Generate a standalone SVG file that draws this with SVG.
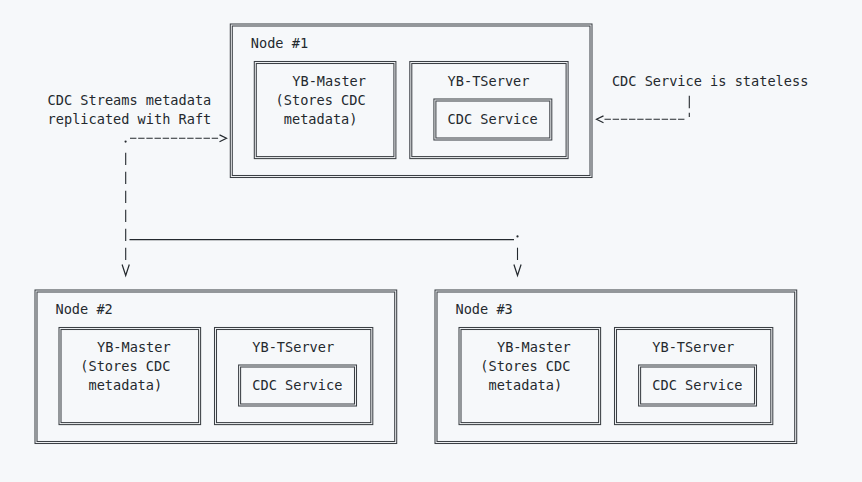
<svg xmlns="http://www.w3.org/2000/svg" width="862" height="482" viewBox="0 0 862 482">
  <style>
    .bg { fill: #f6f8fa; }
    .box { fill: none; stroke: #3c4045; stroke-width: 1.05; }
    .t { font-family: "DejaVu Sans Mono", "Liberation Mono", monospace; font-size: 13.6px; fill: #24292e; }
    .ln { fill: none; stroke: #24292e; stroke-width: 1.1; }
    .dh { stroke-dasharray: 6.4 1.77; }
    .dv { stroke-dasharray: 12.3 6.7; }
    .head { fill: none; stroke: #24292e; stroke-width: 1.2; stroke-linejoin: miter; }
    .dot { fill: #24292e; }
  </style>
  <rect class="bg" x="0" y="0" width="862" height="482"/>

  <g id="node1" transform="translate(230.3,24)">
    <rect class="box" x="0" y="0" width="361.7" height="153.5"/>
    <rect class="box" x="2" y="2" width="357.7" height="149.5"/>
    <rect class="box" x="24" y="37.5" width="141.6" height="97.1"/>
    <rect class="box" x="26" y="39.5" width="137.6" height="93.1"/>
    <rect class="box" x="179.5" y="37.5" width="158.3" height="97.1"/>
    <rect class="box" x="181.5" y="39.5" width="154.3" height="93.1"/>
    <rect class="box" x="203.6" y="75" width="117.9" height="41"/>
    <rect class="box" x="205.6" y="77" width="113.9" height="37"/>
    <text class="t" x="20.5" y="24">Node #1</text>
    <text class="t" x="62" y="62">YB-Master</text>
    <text class="t" x="45.3" y="81">(Stores CDC</text>
    <text class="t" x="53.5" y="100">metadata)</text>
    <text class="t" x="217.3" y="62">YB-TServer</text>
    <text class="t" x="217.3" y="100">CDC Service</text>
  </g>

  <g id="node2" transform="translate(35,290)">
    <rect class="box" x="0" y="0" width="361.7" height="153.5"/>
    <rect class="box" x="2" y="2" width="357.7" height="149.5"/>
    <rect class="box" x="24" y="37.5" width="141.6" height="97.1"/>
    <rect class="box" x="26" y="39.5" width="137.6" height="93.1"/>
    <rect class="box" x="179.5" y="37.5" width="158.3" height="97.1"/>
    <rect class="box" x="181.5" y="39.5" width="154.3" height="93.1"/>
    <rect class="box" x="203.6" y="75" width="117.9" height="41"/>
    <rect class="box" x="205.6" y="77" width="113.9" height="37"/>
    <text class="t" x="20.5" y="24">Node #2</text>
    <text class="t" x="62" y="62">YB-Master</text>
    <text class="t" x="45.3" y="81">(Stores CDC</text>
    <text class="t" x="53.5" y="100">metadata)</text>
    <text class="t" x="217.3" y="62">YB-TServer</text>
    <text class="t" x="217.3" y="100">CDC Service</text>
  </g>

  <g id="node3" transform="translate(435,290)">
    <rect class="box" x="0" y="0" width="361.7" height="153.5"/>
    <rect class="box" x="2" y="2" width="357.7" height="149.5"/>
    <rect class="box" x="24" y="37.5" width="141.6" height="97.1"/>
    <rect class="box" x="26" y="39.5" width="137.6" height="93.1"/>
    <rect class="box" x="179.5" y="37.5" width="158.3" height="97.1"/>
    <rect class="box" x="181.5" y="39.5" width="154.3" height="93.1"/>
    <rect class="box" x="203.6" y="75" width="117.9" height="41"/>
    <rect class="box" x="205.6" y="77" width="113.9" height="37"/>
    <text class="t" x="20.5" y="24">Node #3</text>
    <text class="t" x="62" y="62">YB-Master</text>
    <text class="t" x="45.3" y="81">(Stores CDC</text>
    <text class="t" x="53.5" y="100">metadata)</text>
    <text class="t" x="217.3" y="62">YB-TServer</text>
    <text class="t" x="217.3" y="100">CDC Service</text>
  </g>

  <g id="labels">
    <text class="t" x="47.6" y="105">CDC Streams metadata</text>
    <text class="t" x="47.6" y="124">replicated with Raft</text>
    <text class="t" x="611.9" y="86">CDC Service is stateless</text>
  </g>

  <g id="connectors">
    <circle class="dot" cx="125.6" cy="141.6" r="1.1"/>
    <path class="ln dh" d="M130,138.3 H218.6"/>
    <polyline class="head" points="219.5,134.9 226.5,138.3 219.5,141.7"/>
    <path class="ln dv" d="M125.7,152.7 V260"/>
    <polyline class="head" points="122.1,264.5 125.7,275.5 129.3,264.5"/>
    <path class="ln" d="M129.5,239.6 H514"/>
    <circle class="dot" cx="517.5" cy="236.4" r="1.1"/>
    <path class="ln" d="M517.5,247.7 V260"/>
    <polyline class="head" points="513.9,264.5 517.5,275.5 521.1,264.5"/>
    <path class="ln" d="M689.3,95.7 V108.3"/>
    <path class="ln" d="M689.3,112.7 V117"/>
    <path class="ln dh" d="M604.5,119.3 H685.5"/>
    <polyline class="head" points="603.5,115.9 596.5,119.3 603.5,122.7"/>
  </g>
</svg>
